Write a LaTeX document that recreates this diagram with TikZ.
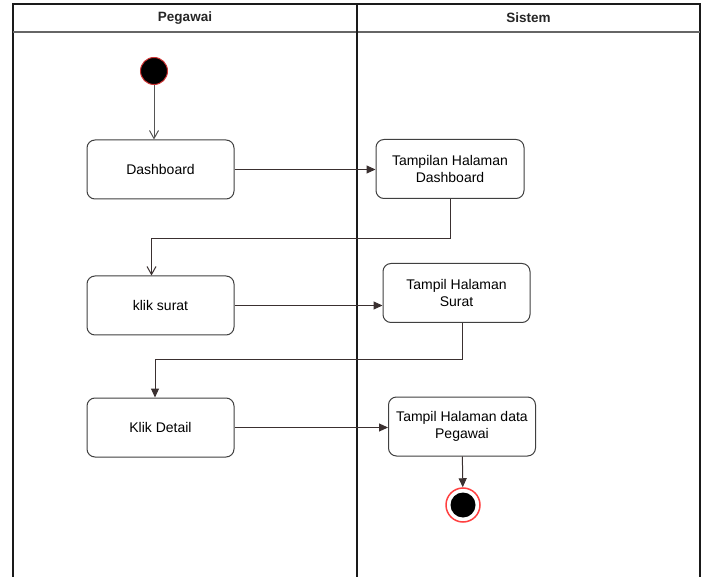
\documentclass[tikz,border=0pt]{standalone}
\usepackage{fontspec}
\setmainfont{Liberation Sans}
\usepackage{tikz}
\usetikzlibrary{arrows.meta,positioning,calc}
\definecolor{SwimLine}{HTML}{1A1A1A}
\definecolor{FlowGray}{HTML}{555555}
\definecolor{FlowDark}{HTML}{3A3030}
\definecolor{EndRed}{HTML}{FF4040}

\begin{document}
\begin{tikzpicture}[
        x=1pt,y=-1pt,
        lane/.style={draw=SwimLine,line width=1.1pt},
        lanehead/.style={font=\fontsize{13.5}{15}\selectfont\bfseries,text=black!85},
        act/.style={draw=black!75,rounded corners=8pt,line width=1pt,minimum width=147pt,minimum height=59pt,fill=white,align=center,font=\fontsize{14}{17}\selectfont,inner sep=2pt},
        openarr/.style={-{Straight Barb[length=8pt,width=9pt]},line width=1pt,FlowDark},
        arr/.style={-{Triangle[length=9pt,width=8pt]},line width=1pt,FlowDark}
      ]
        \useasboundingbox (0,0) rectangle (707,577);
        % swimlanes
        \draw[lane] (13,577) |- (700,4) -- (700,577);
        \draw[lane,draw=black!60] (13,32) -- (700,32);
        \draw[lane] (357,4) -- (357,577);
        \node[lanehead] (pegawai) at (185,18) {Pegawai};
        \node[lanehead] (sistem) at (528.5,18) {Sistem};
        % start / end
        \node[circle,fill=black,draw=EndRed!80!black,line width=1pt,minimum size=27pt,inner sep=0pt] (start) at (154,71) {};
        \node[circle,draw=EndRed,line width=1.5pt,minimum size=34pt,inner sep=0pt] (end) at (463,505) {};
        \node[circle,fill=black,minimum size=25pt,inner sep=0pt] (endcore) at (end) {};
        % activities
        \node[act] (dash) at (160.5,169.5) {Dashboard};
        \node[act,minimum width=148pt] (tdash) at (450,169) {Tampilan Halaman\\Dashboard};
        \node[act] (klik) at (160.5,305.5) {klik surat};
        \node[act] (tsurat) at (456.5,293) {Tampil Halaman\\Surat};
        \node[act] (detail) at (160.5,427.5) {Klik Detail};
        \node[act] (tdata) at (462,426.5) {Tampil Halaman data\\Pegawai};
        % flows
        \draw[openarr,FlowGray] (start) -- (start |- dash.north);
        \draw[arr] (dash) -- (dash -| tdash.west);
        \draw[openarr] (tdash.south) -- ++(0,40) -| ([xshift=-9pt]klik.north);
        \draw[arr] (klik) -- (klik -| tsurat.west);
        \draw[arr] ([xshift=6pt]tsurat.south) -- ++(0,37) -| ([xshift=-5.5pt]detail.north);
        \draw[arr] (detail) -- (detail -| tdata.west);
        \draw[arr] (tdata) -- (end);
      \end{tikzpicture}
\end{document}
